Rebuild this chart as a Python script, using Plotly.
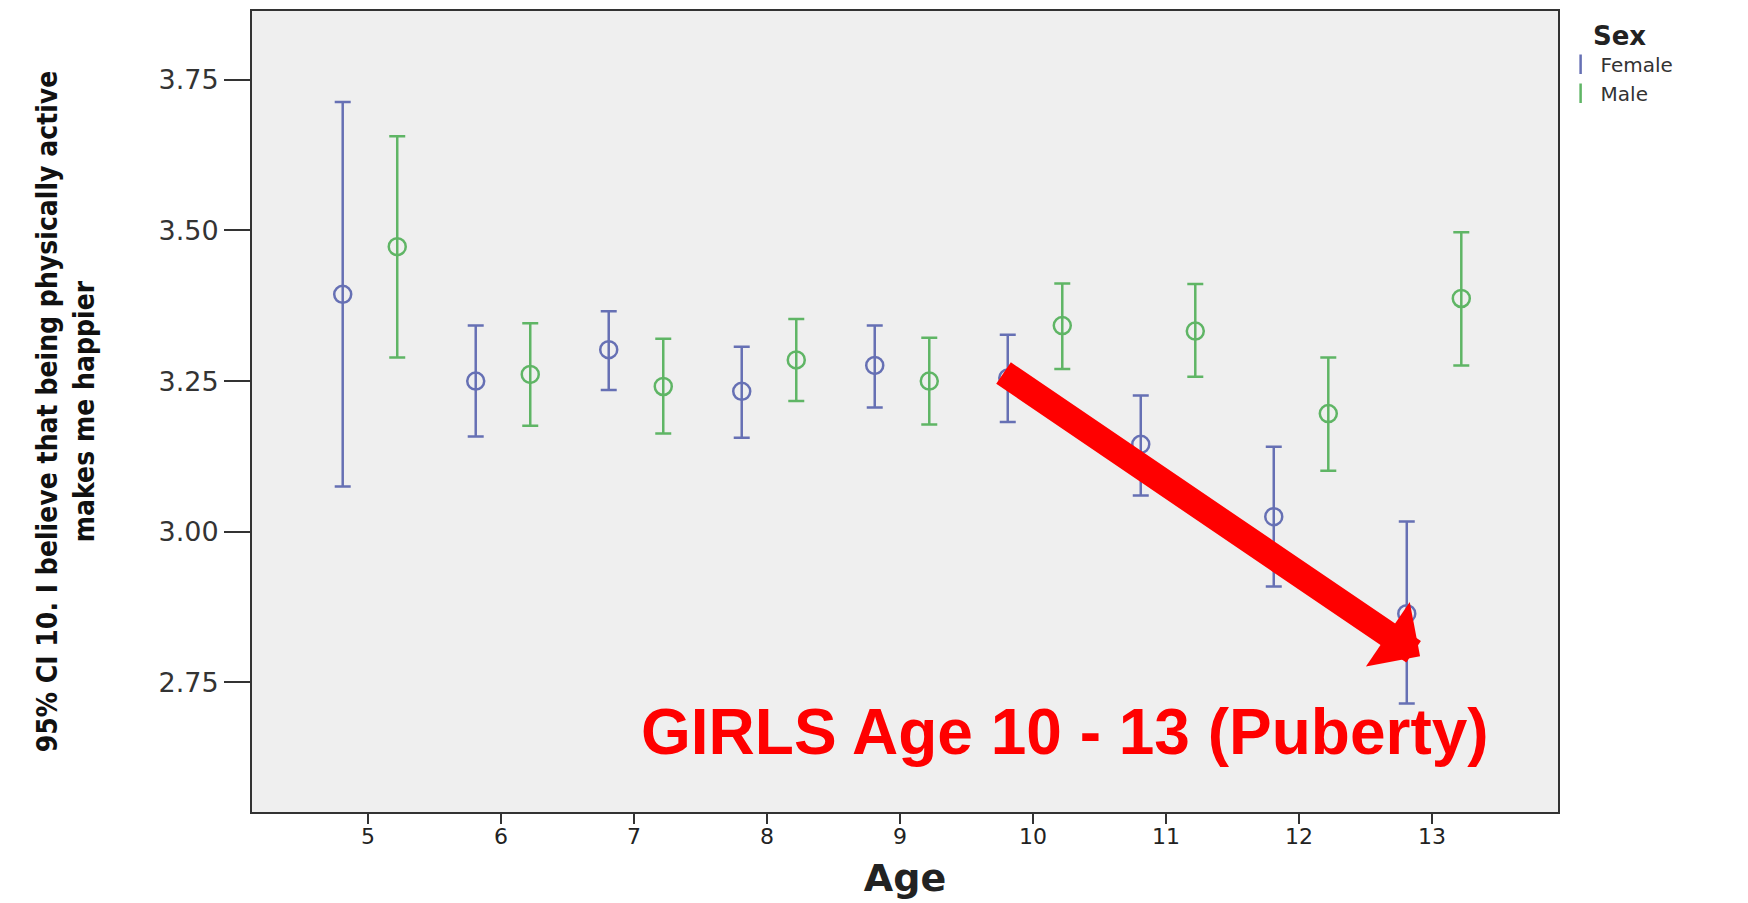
import plotly.graph_objects as go

# ---- data ----
ages = [5, 6, 7, 8, 9, 10, 11, 12, 13]
female_mean  = [3.394, 3.250, 3.302, 3.233, 3.276, 3.255, 3.145, 3.025, 2.864]
female_upper = [3.713, 3.342, 3.366, 3.307, 3.342, 3.327, 3.226, 3.141, 3.017]
female_lower = [3.075, 3.158, 3.235, 3.156, 3.206, 3.182, 3.060, 2.909, 2.715]
male_mean    = [3.473, 3.261, 3.241, 3.285, 3.250, 3.342, 3.333, 3.196, 3.387]
male_upper   = [3.656, 3.346, 3.320, 3.353, 3.322, 3.412, 3.411, 3.289, 3.497]
male_lower   = [3.289, 3.176, 3.163, 3.217, 3.178, 3.270, 3.257, 3.101, 3.276]
y_ticks = [2.75, 3.00, 3.25, 3.50, 3.75]
y_ticklabels = ["2.75", "3.00", "3.25", "3.50", "3.75"]

FEMALE_OFFSET = -0.19
MALE_OFFSET = 0.22
FEMALE_COLOR = "#6670b4"
MALE_COLOR = "#5fb565"

fig = go.Figure()

def add_series(name, means, uppers, lowers, offset, color):
    xs = [a + offset for a in ages]
    fig.add_trace(go.Scatter(
        x=xs, y=means, mode="markers", name=name, showlegend=False,
        marker=dict(symbol="circle-open", size=17, color=color, line=dict(width=2.5, color=color)),
        error_y=dict(type="data", symmetric=False,
                     array=[u - m for u, m in zip(uppers, means)],
                     arrayminus=[m - l for m, l in zip(means, lowers)],
                     color=color, thickness=2.5, width=8),
    ))
    # legend entry (I-shaped icon)
    fig.add_trace(go.Scatter(
        x=[None], y=[None], mode="markers", name=name, showlegend=True,
        marker=dict(symbol="line-ns-open", size=14, color=color, line=dict(width=2.5, color=color)),
    ))

add_series("Female", female_mean, female_upper, female_lower, FEMALE_OFFSET, FEMALE_COLOR)
add_series("Male", male_mean, male_upper, male_lower, MALE_OFFSET, MALE_COLOR)

# red arrow annotation
fig.add_annotation(
    x=12.91, y=2.7935, ax=9.767, ay=3.265, xref="x", yref="y", axref="x", ayref="y",
    text="", showarrow=True, arrowhead=1, arrowsize=0.5, arrowwidth=26, arrowcolor="#ff0000",
    standoff=0,
)
fig.add_annotation(
    x=10.237, y=2.668, xref="x", yref="y", text="<b>GIRLS Age 10 - 13 (Puberty)</b>",
    showarrow=False, font=dict(family="Liberation Sans, Arial", size=64, color="#ff0000"),
    xanchor="center", yanchor="middle",
)

fig.update_layout(
    width=1740, height=895,
    margin=dict(l=244, r=190, t=1, b=91),
    paper_bgcolor="white", plot_bgcolor="#efefef",
    showlegend=True,
    legend=dict(
        title=dict(text="<b>Sex</b>", side="top center", font=dict(family="DejaVu Sans", size=26, color="#222")),
        x=1.002, y=1.0, xanchor="left", yanchor="top",
        font=dict(family="DejaVu Sans", size=20, color="#333"),
        bgcolor="rgba(0,0,0,0)", itemwidth=30, tracegroupgap=0,
    ),
    xaxis=dict(
        range=[4.128, 13.947], tickmode="array", tickvals=ages, ticktext=[str(a) for a in ages],
        showgrid=False, zeroline=False, showline=True, mirror=True, linecolor="#333", linewidth=2,
        ticks="outside", ticklen=10, tickwidth=2, tickcolor="#333", ticklabelstandoff=-6,
        tickfont=dict(family="DejaVu Sans", size=22, color="#222"),
        title=dict(text="<b>Age</b>", font=dict(family="DejaVu Sans", size=38, color="#222"), standoff=16),
    ),
    yaxis=dict(
        range=[2.535, 3.864], tickmode="array", tickvals=y_ticks, ticktext=y_ticklabels,
        showgrid=False, zeroline=False, showline=True, mirror=True, linecolor="#333", linewidth=2,
        ticks="outside", ticklen=26, tickwidth=2, tickcolor="#333",
        tickfont=dict(family="DejaVu Sans", size=27, color="#333"),
        title=dict(text="<b>95% CI 10. I believe that being physically active<br>makes me happier</b>",
                   font=dict(family="DejaVu Sans Condensed, Liberation Sans Narrow, DejaVu Sans", size=28, color="#111"),
                   standoff=56),
    ),
)

fig.write_html("out.html")
